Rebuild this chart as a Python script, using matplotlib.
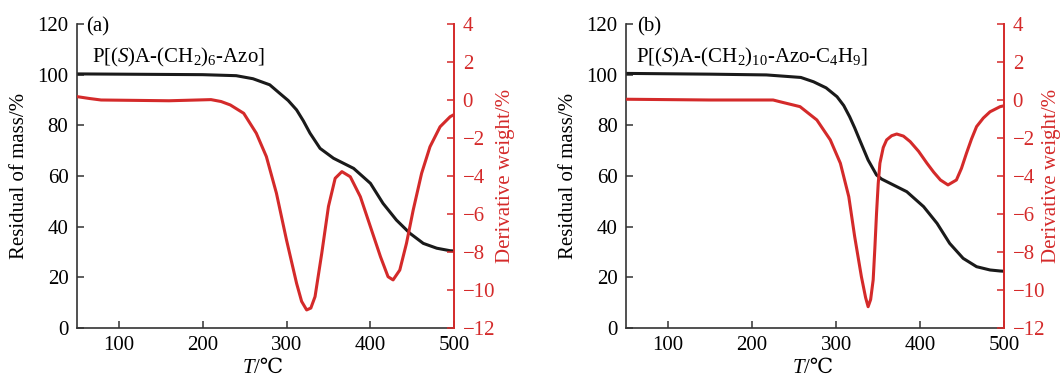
import numpy as np
import matplotlib
matplotlib.use("Agg")
import matplotlib.pyplot as plt

plt.rcParams["font.family"] = ["Liberation Serif", "DejaVu Serif"]
plt.rcParams["mathtext.fontset"] = "custom"
plt.rcParams["mathtext.rm"] = "Liberation Serif"
plt.rcParams["mathtext.it"] = "Liberation Serif:italic"
plt.rcParams["axes.unicode_minus"] = True

RED = "#d42a2a"
BLACK = "#1a1a1a"

# Panel (a): P[(S)A-(CH2)6-Azo]
a_mass_t = [50, 150, 200, 240, 260, 280, 292, 302, 312, 320, 328, 340, 356, 380, 400, 415, 431,
            447, 463, 479, 495, 500]
a_mass = [100.3, 100.1, 100.0, 99.6, 98.4, 96.0, 92.6, 89.8, 86.1, 81.8, 76.9, 70.9, 67.0, 63.0,
          57.1, 49.2, 42.6, 37.4, 33.4, 31.5, 30.5, 30.4]
a_deriv_t = [50, 65, 79, 120, 160, 210, 222, 233, 249, 264, 276, 288, 300, 312, 318, 324, 329, 334,
             342, 350, 358, 366, 376, 388, 400, 412, 421, 427, 435, 443, 451, 461, 471, 483, 495, 500]
a_deriv = [0.18, 0.08, 0.0, -0.02, -0.04, 0.02, -0.08, -0.26, -0.70, -1.75, -2.98, -4.91, -7.37,
           -9.65, -10.6, -11.05, -10.95, -10.35, -8.07, -5.6, -4.12, -3.77, -4.04, -5.09, -6.67,
           -8.25, -9.3, -9.47, -8.95, -7.54, -5.79, -3.86, -2.46, -1.41, -0.88, -0.76]

# Panel (b): P[(S)A-(CH2)10-Azo-C4H9]
b_mass_t = [50, 150, 217, 258, 273, 288, 301, 309, 316, 322, 328, 338, 348, 354, 360, 372, 384,
            404, 420, 435, 451, 467, 483, 495, 500]
b_mass = [100.5, 100.2, 99.9, 98.9, 97.2, 94.8, 91.3, 87.8, 83.4, 79.0, 74.2, 66.3, 60.4, 58.8,
          57.8, 55.8, 53.8, 47.9, 41.3, 33.4, 27.5, 24.2, 22.9, 22.5, 22.4]
b_deriv_t = [50, 150, 225, 233, 257, 277, 293, 305, 315, 322, 330, 335, 338, 341, 344, 346, 348,
             350, 352, 356, 360, 366, 372, 380, 388, 398, 408, 416, 424, 433, 443, 449, 455, 461,
             467, 475, 483, 495, 500]
b_deriv = [0.04, 0.0, 0.0, -0.09, -0.35, -1.05, -2.1, -3.33, -5.09, -7.19, -9.3, -10.4, -10.88,
           -10.5, -9.47, -7.8, -5.96, -4.4, -3.33, -2.5, -2.1, -1.88, -1.79, -1.9, -2.19, -2.7,
           -3.33, -3.8, -4.21, -4.47, -4.21, -3.6, -2.8, -2.05, -1.4, -0.95, -0.62, -0.35, -0.3]

panels = [
    {"tag": "(a)", "name": r"P[($\mathit{S}$)A-(CH$_2$)$_6$-Azo]",
     "mass_t": a_mass_t, "mass": a_mass, "deriv_t": a_deriv_t, "deriv": a_deriv,
     "rect": [0.0722, 0.1323, 0.3552, 0.8042], "tag_x": 0.025, "name_x": 0.04,
     "left_lab": -0.126, "right_lab": 1.110},
    {"tag": "(b)", "name": r"P[($\mathit{S}$)A-(CH$_2$)$_{10}$-Azo-C$_4$H$_9$]",
     "mass_t": b_mass_t, "mass": b_mass, "deriv_t": b_deriv_t, "deriv": b_deriv,
     "rect": [0.5889, 0.1323, 0.3559, 0.8042], "tag_x": 0.03, "name_x": 0.027,
     "left_lab": -0.127, "right_lab": 1.100},
]

fig = plt.figure(figsize=(10.63, 3.78), dpi=100)
fs = 15

for p in panels:
    ax = fig.add_axes(p["rect"])
    ax2 = ax.twinx()

    ax.plot(p["mass_t"], p["mass"], color=BLACK, lw=2.2, solid_capstyle="round", solid_joinstyle="round")
    ax2.plot(p["deriv_t"], p["deriv"], color=RED, lw=2.2, solid_capstyle="round", solid_joinstyle="round")

    ax.set_xlim(50, 500)
    ax.set_ylim(0, 120)
    ax2.set_ylim(-12, 4)
    ax.set_xticks([100, 200, 300, 400, 500])
    ax.set_yticks(np.arange(0, 121, 20))
    ax2.set_yticks(np.arange(-12, 5, 2))

    for a in (ax, ax2):
        a.spines["top"].set_visible(False)
    ax.spines["right"].set_visible(False)
    ax2.spines["left"].set_visible(False)
    ax2.spines["bottom"].set_visible(False)
    ax.spines["left"].set_color("#333333")
    ax.spines["bottom"].set_color("#333333")
    ax2.spines["right"].set_color(RED)
    for s in ("left", "bottom"):
        ax.spines[s].set_linewidth(1.2)
    ax2.spines["right"].set_linewidth(1.4)

    ax.tick_params(axis="y", direction="in", length=5, width=1.1, labelsize=fs, color="#333333", pad=6)
    ax.tick_params(axis="x", direction="in", length=5, width=1.1, labelsize=fs, color="#333333", pad=6)
    ax2.tick_params(axis="y", direction="in", length=5, width=1.1, labelsize=fs,
                    color=RED, labelcolor=RED, pad=6)

    # x label: italic T plus "/℃" (℃ comes from the fallback family)
    ax.text(0.47, -0.103, "T", transform=ax.transAxes, fontsize=fs, style="italic",
            ha="right", va="top")
    ax.text(0.47, -0.103, "/℃", transform=ax.transAxes, fontsize=fs, ha="left", va="top")

    ax.set_ylabel("Residual of mass/%", fontsize=fs)
    ax.yaxis.set_label_coords(p["left_lab"], 0.5)
    ax2.set_ylabel("Derivative weight/%", fontsize=fs, color=RED)
    ax2.yaxis.set_label_coords(p["right_lab"], 0.5)

    ax.text(p["tag_x"], 0.99, p["tag"], transform=ax.transAxes, fontsize=fs, va="center", ha="left")
    ax.text(p["name_x"], 0.891, p["name"], transform=ax.transAxes, fontsize=fs, va="center", ha="left")

fig.savefig("out.png", dpi=100)
